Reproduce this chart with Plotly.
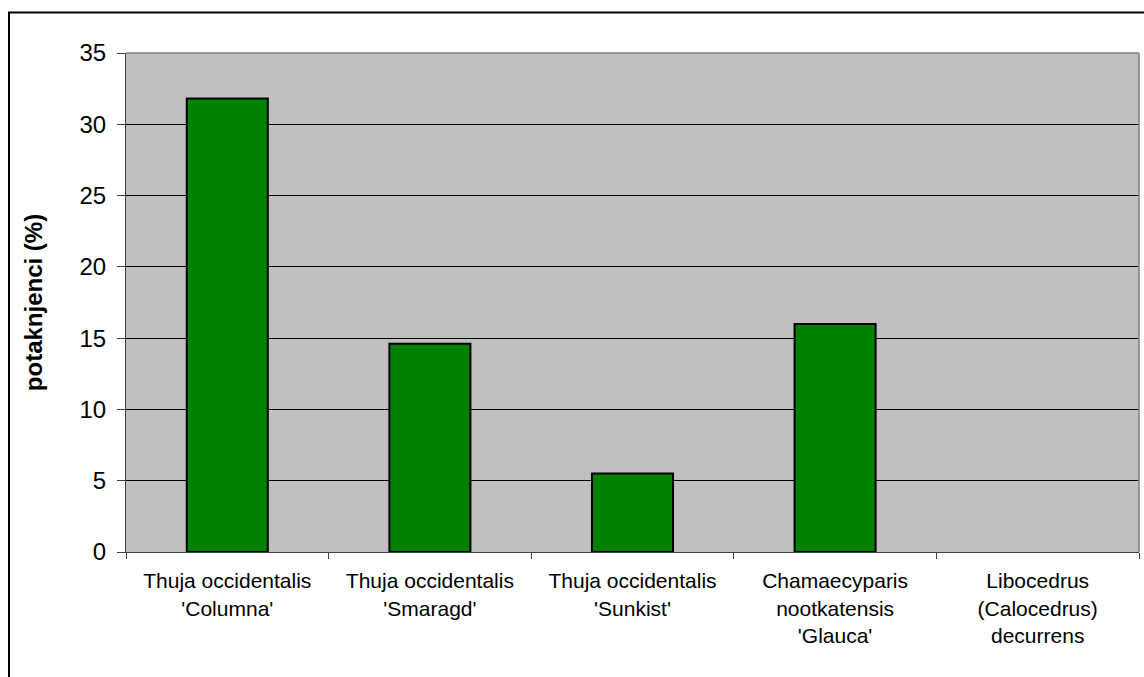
import plotly.graph_objects as go

# Share of rooted cuttings per conifer cultivar
categories = [
    "Thuja occidentalis<br>'Columna'",
    "Thuja occidentalis<br>'Smaragd'",
    "Thuja occidentalis<br>'Sunkist'",
    "Chamaecyparis<br>nootkatensis<br>'Glauca'",
    "Libocedrus<br>(Calocedrus)<br>decurrens",
]
rooted_pct = [31.8, 14.6, 5.5, 16.0, 0.0]
y_ticks = [0, 5, 10, 15, 20, 25, 30, 35]

FONT = "Arial, Liberation Sans, sans-serif"

# empty bars get no outline so nothing shows on the axis
outline_w = [2 if v > 0 else 0 for v in rooted_pct]

fig = go.Figure(
    go.Bar(
        x=categories,
        y=rooted_pct,
        marker=dict(color="#008000", line=dict(color="#000000", width=outline_w)),
        hoverinfo="x+y",
    )
)

# Plot-area geometry in pixels (used for the surrounding frame)
W, H = 1144, 677
L, R, T, B = 126, 5, 53, 124.5
pw, ph = W - L - R, H - T - B


def px_x(x):
    return (x - L) / pw


def px_y(y):
    return (H - B - y) / ph


fig.update_layout(
    width=W,
    height=H,
    margin=dict(l=L, r=R, t=T, b=B, pad=0),
    paper_bgcolor="#FFFFFF",
    plot_bgcolor="#C0C0C0",
    bargap=0.6,
    showlegend=False,
    font=dict(family=FONT, color="#000000"),
    xaxis=dict(
        type="category",
        tickson="boundaries",
        ticks="outside",
        ticklen=6,
        tickcolor="#404040",
        tickwidth=1,
        showline=True,
        linecolor="#404040",
        linewidth=1,
        showgrid=False,
        tickfont=dict(size=21, family=FONT, color="#000000"),
        ticklabelstandoff=10,
    ),
    yaxis=dict(
        range=[0, 35],
        tickvals=y_ticks,
        ticks="outside",
        ticklen=8,
        tickcolor="#404040",
        tickwidth=1,
        showline=True,
        linecolor="#404040",
        linewidth=1,
        showgrid=True,
        gridcolor="#000000",
        gridwidth=1,
        zeroline=False,
        tickfont=dict(size=24, family=FONT, color="#000000"),
        ticklabelstandoff=6,
        title=dict(
            text="<b>potaknjenci (%)</b>",
            font=dict(size=24, family=FONT, color="#000000"),
            standoff=30,
        ),
    ),
    shapes=[
        # plot-area frame (top and right edges)
        dict(type="line", xref="paper", yref="paper", x0=0, x1=1, y0=1, y1=1,
             line=dict(color="#808080", width=1.5)),
        dict(type="line", xref="paper", yref="paper", x0=1, x1=1, y0=0, y1=1,
             line=dict(color="#808080", width=1.5)),
        # chart border
        dict(type="rect", xref="paper", yref="paper",
             x0=px_x(9), x1=px_x(W + 20), y0=px_y(H + 20), y1=px_y(12.5),
             line=dict(color="#000000", width=2), fillcolor="rgba(0,0,0,0)"),
    ],
)

fig.write_html("out.html")
